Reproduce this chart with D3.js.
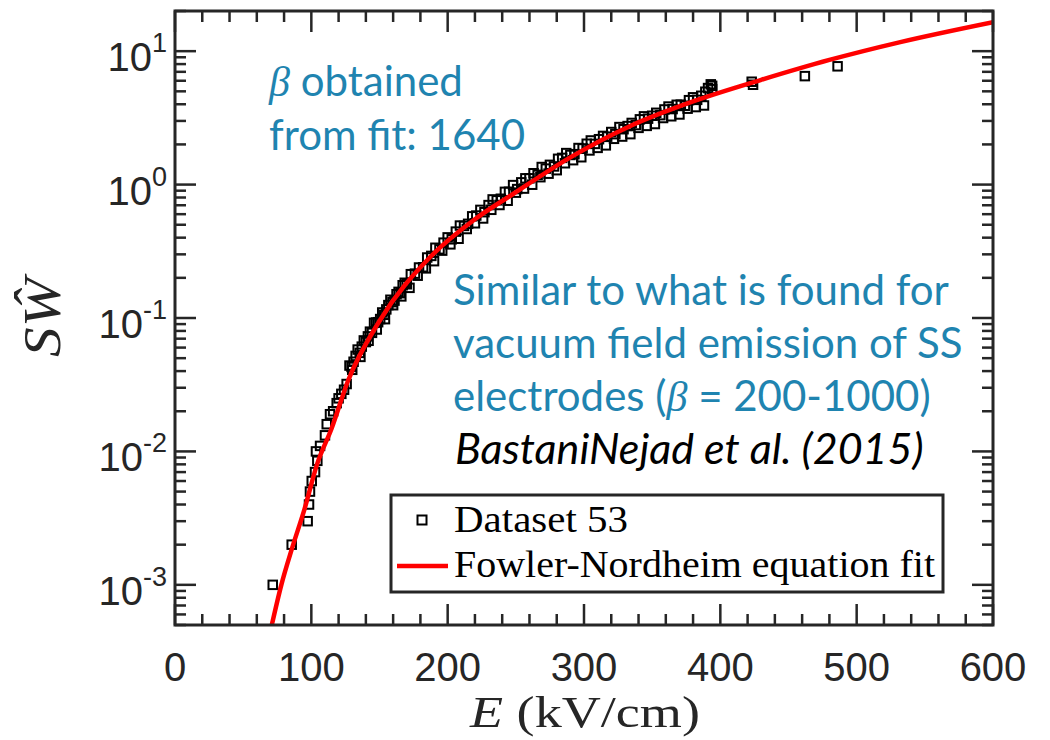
<!DOCTYPE html>
<html>
<head>
<meta charset="utf-8">
<script src="https://cdn.jsdelivr.net/npm/d3@7"></script>
<style>
  body { margin: 0; background: #fff; }
  svg { display: block; }
</style>
</head>
<body>
<svg id="chart" width="1050" height="740"></svg>
<script>
// FN fit plot, Dataset 53

// measured points (E in kV/cm, S*W hat)
const dataE = [
  71.7, 85.6, 97.3, 98.3, 99, 100.3, 102.7, 103.4, 104.4, 106.4, 110, 111.3, 113.7, 116, 118.6, 120, 122, 124, 125.9,
  128, 129.5, 131, 132.5, 134, 135.5, 137, 138.5, 140, 141.5, 143, 144.5, 146, 147.5, 149, 150.5, 152, 153.5, 155,
  156.5, 158, 159.5, 161, 162.5, 164, 165.5, 167, 168.5, 170, 173, 176, 179, 182, 185, 188, 191, 194, 197, 200,
  203, 206, 209, 212, 215, 218, 221, 224, 227, 230, 233, 236, 239, 242, 245, 248, 251, 254, 257, 260, 263, 266,
  269, 272, 275, 278, 281, 284, 287, 290, 293, 296, 299, 302, 305, 308, 311, 314, 317, 320, 323, 326, 329, 332,
  335, 338, 341, 344, 347, 350, 353, 356, 359, 362, 365, 368, 371, 374, 377, 380, 383, 386, 389, 391, 393, 394,
  394, 423, 424, 462, 486,
  // points on the lower side of the band
  130, 136, 142, 148, 154, 160, 166, 172, 178, 184, 190, 196, 202, 208, 214, 220, 226, 232, 238, 244, 250, 256,
  262, 268, 274, 280, 286, 292, 298, 304, 310, 316, 322, 328, 334, 340, 346, 352, 358, 364, 370, 376, 382, 388
];
const dataSW = [
  0.001, 0.002, 0.003, 0.004, 0.005, 0.006, 0.007, 0.010, 0.0085, 0.011, 0.0132, 0.016, 0.019, 0.020, 0.023, 0.025, 0.027, 0.029, 0.032,
  0.044, 0.043, 0.047, 0.052, 0.058, 0.0548, 0.061, 0.0679, 0.066, 0.0728, 0.079, 0.0774, 0.092, 0.0925, 0.093, 0.0982, 0.110, 0.1057, 0.116,
  0.125, 0.137, 0.1315, 0.135, 0.1507, 0.157, 0.1535, 0.176, 0.1837, 0.179, 0.213, 0.215, 0.239, 0.240, 0.284, 0.292, 0.336, 0.327, 0.367, 0.402,
  0.389, 0.444, 0.493, 0.490, 0.508, 0.578, 0.586, 0.646, 0.621, 0.702, 0.774, 0.762, 0.783, 0.882, 0.883, 0.991, 0.925, 1.039, 1.114, 1.114, 1.216, 1.183,
  1.354, 1.317, 1.406, 1.368, 1.560, 1.585, 1.722, 1.667, 1.690, 1.879, 1.866, 2.023, 2.141, 2.018, 2.188, 2.316, 2.286, 2.477, 2.388, 2.698, 2.600, 2.745,
  2.897, 2.793, 3.083, 3.246, 3.118, 3.281, 3.451, 3.316, 3.656, 3.844, 3.681, 3.963, 3.972, 3.899, 4.291, 4.508, 4.315, 4.631, 4.966, 5.29, 5.64, 5.19,
  5.5, 5.9, 5.6, 6.5, 7.7,
  0.0409, 0.0511, 0.0675, 0.0820, 0.0980, 0.1247, 0.1452, 0.1683, 0.2075, 0.2355, 0.2667, 0.3199, 0.3565, 0.3926, 0.4645, 0.5129, 0.5572, 0.6471, 0.7031, 0.7568, 0.8699, 0.9333,
  0.9977, 1.136, 1.207, 1.282, 1.445, 1.524, 1.603, 1.803, 1.884, 1.968, 2.203, 2.291, 2.388, 2.661, 2.754, 2.844, 3.155, 3.251, 3.354, 3.707, 3.811, 3.917
];

// Fowler-Nordheim fit curve
const fitE = [71, 78, 86, 95, 104, 115, 127, 150, 187, 220, 248, 290, 334, 380, 430, 480, 532, 600];
const fitSW = [5e-4, 1.0e-3, 1.9e-3, 3.7e-3, 7.9e-3, 0.015, 0.034, 0.095, 0.285, 0.55, 0.85, 1.6, 2.75, 4.2, 6.1, 8.6, 11.7, 16.5];

const xTicks = [0, 100, 200, 300, 400, 500, 600];
const yExps = [-3, -2, -1, 0, 1];
const legendLabels = ["Dataset 53", "Fowler-Nordheim equation fit"];

const pLeft = 175, pRight = 993, pTop = 11, pBottom = 625;
const axisCol = "#262626", blue = "#1f84b0";

const svg = d3.select("#chart");
const x = d3.scaleLinear().domain([0, 600]).range([pLeft, pRight]);
const y = d3.scaleLog().domain([5e-4, 20]).range([pBottom, pTop]);

// clip for the data
svg.append("clipPath").attr("id", "clip")
  .append("rect").attr("x", pLeft).attr("y", pTop).attr("width", pRight - pLeft).attr("height", pBottom - pTop);

const plot = svg.append("g").attr("clip-path", "url(#clip)");

// squares
const pts = dataE.map((e, i) => ({e: e, v: dataSW[i]}));
const sq = 8.5;
plot.selectAll(".pt")
  .data(pts)
  .enter()
  .append("rect")
  .attr("x", d => x(d.e) - sq / 2)
  .attr("y", d => y(d.v) - sq / 2)
  .attr("width", sq)
  .attr("height", sq)
  .attr("fill", "none")
  .attr("stroke", "#000")
  .attr("stroke-width", 2);

// fit line
const fit = fitE.map((e, i) => [e, fitSW[i]]);
const line = d3.line().x(d => x(d[0])).y(d => y(d[1])).curve(d3.curveMonotoneX);
plot.append("path")
  .attr("d", line(fit))
  .attr("fill", "none")
  .attr("stroke", "#ff0000")
  .attr("stroke-width", 4.5);

// ticks (inside, all 4 sides)
const tk = svg.append("g").attr("stroke", axisCol).attr("stroke-width", 2.5);
const majLen = 21, minLen = 11;
d3.range(0, 601, 20).forEach(v => {
  const len = v % 100 == 0 ? majLen : minLen;
  tk.append("line").attr("x1", x(v)).attr("x2", x(v)).attr("y1", pBottom).attr("y2", pBottom - len);
  tk.append("line").attr("x1", x(v)).attr("x2", x(v)).attr("y1", pTop).attr("y2", pTop + len);
});
let yTickVals = [];
for (let p = -4; p <= 1; p++) {
  for (let k = 1; k <= 9; k++) {
    const v = k * Math.pow(10, p);
    if (v >= 5e-4 && v <= 20) yTickVals.push({v: v, major: k == 1});
  }
}
yTickVals.forEach(t => {
  const len = t.major ? majLen : minLen;
  tk.append("line").attr("x1", pLeft).attr("x2", pLeft + len).attr("y1", y(t.v)).attr("y2", y(t.v));
  tk.append("line").attr("x1", pRight).attr("x2", pRight - len).attr("y1", y(t.v)).attr("y2", y(t.v));
});

// frame
svg.append("rect")
  .attr("x", pLeft).attr("y", pTop)
  .attr("width", pRight - pLeft).attr("height", pBottom - pTop)
  .attr("fill", "none").attr("stroke", axisCol).attr("stroke-width", 3);

// tick labels
const sans = "'Liberation Sans', Arial, Helvetica, sans-serif";
svg.selectAll(".xl")
  .data(xTicks)
  .enter()
  .append("text")
  .attr("x", d => x(d))
  .attr("y", 681)
  .attr("text-anchor", "middle")
  .attr("font-family", sans)
  .attr("font-size", 40)
  .attr("fill", axisCol)
  .text(d => d);

yExps.forEach(p => {
  const t = svg.append("text")
    .attr("x", 167)
    .attr("y", y(Math.pow(10, p)) + 20)
    .attr("text-anchor", "end")
    .attr("font-family", sans)
    .attr("font-size", 40)
    .attr("fill", axisCol);
  t.append("tspan").text("10");
  t.append("tspan").attr("dy", -19).attr("font-size", 27).text(p);
});

// axis labels
const serif = "'Liberation Serif', 'Times New Roman', serif";
const xl = svg.append("text")
  .attr("x", 470).attr("y", 727)
  .attr("font-family", serif)
  .attr("font-size", 44)
  .attr("textLength", 230)
  .attr("lengthAdjust", "spacingAndGlyphs")
  .attr("fill", axisCol);
xl.append("tspan").attr("font-style", "italic").text("E");
xl.append("tspan").text(" (kV/cm)");

svg.append("text")
  .attr("transform", "translate(60,357) rotate(-90)")
  .attr("font-family", serif)
  .attr("font-style", "italic")
  .attr("font-size", 52)
  .attr("textLength", 79)
  .attr("lengthAdjust", "spacingAndGlyphs")
  .attr("fill", axisCol)
  .text("S\u0174");

// legend
const lg = svg.append("g");
lg.append("rect")
  .attr("x", 391).attr("y", 495).attr("width", 552).attr("height", 97)
  .attr("fill", "#fff").attr("stroke", axisCol).attr("stroke-width", 3);
lg.append("rect")
  .attr("x", 422 - 4.5).attr("y", 520 - 4.5).attr("width", 9).attr("height", 9)
  .attr("fill", "none").attr("stroke", "#000").attr("stroke-width", 2);
lg.append("line")
  .attr("x1", 397).attr("x2", 448).attr("y1", 566).attr("y2", 566)
  .attr("stroke", "#ff0000").attr("stroke-width", 4.5);
const legW = [174, 481];
lg.selectAll(".lt")
  .data(legendLabels)
  .enter()
  .append("text")
  .attr("x", 454)
  .attr("y", (d, i) => 532 + i * 45)
  .attr("font-family", serif)
  .attr("font-size", 37)
  .attr("textLength", (d, i) => legW[i])
  .attr("lengthAdjust", "spacingAndGlyphs")
  .attr("fill", "#000")
  .text(d => d);

// annotations
const calib = "Lato, 'Open Sans', sans-serif";
const a1 = svg.append("text").attr("font-family", calib).attr("font-size", 42).attr("fill", blue);
const l1 = a1.append("tspan").attr("x", 269).attr("y", 96);
l1.append("tspan").attr("font-style", "italic").attr("font-family", serif).text("\u03b2");
l1.append("tspan").text(" obtained");
a1.append("tspan").attr("x", 269).attr("y", 150).text("from fit: 1640");

const a2 = svg.append("text").attr("font-family", calib).attr("font-size", 42).attr("fill", blue);
a2.append("tspan").attr("x", 453).attr("y", 305).text("Similar to what is found for");
a2.append("tspan").attr("x", 453).attr("y", 358).text("vacuum field emission of SS");
const l3 = a2.append("tspan").attr("x", 453).attr("y", 411);
l3.append("tspan").text("electrodes (");
l3.append("tspan").attr("font-style", "italic").attr("font-family", serif).text("\u03b2");
l3.append("tspan").text(" = 200-1000)");

svg.append("text")
  .attr("x", 455).attr("y", 464)
  .attr("font-family", calib).attr("font-size", 43).attr("font-style", "italic")
  .attr("fill", "#000")
  .text("BastaniNejad et al. (2015)");
</script>
</body>
</html>
